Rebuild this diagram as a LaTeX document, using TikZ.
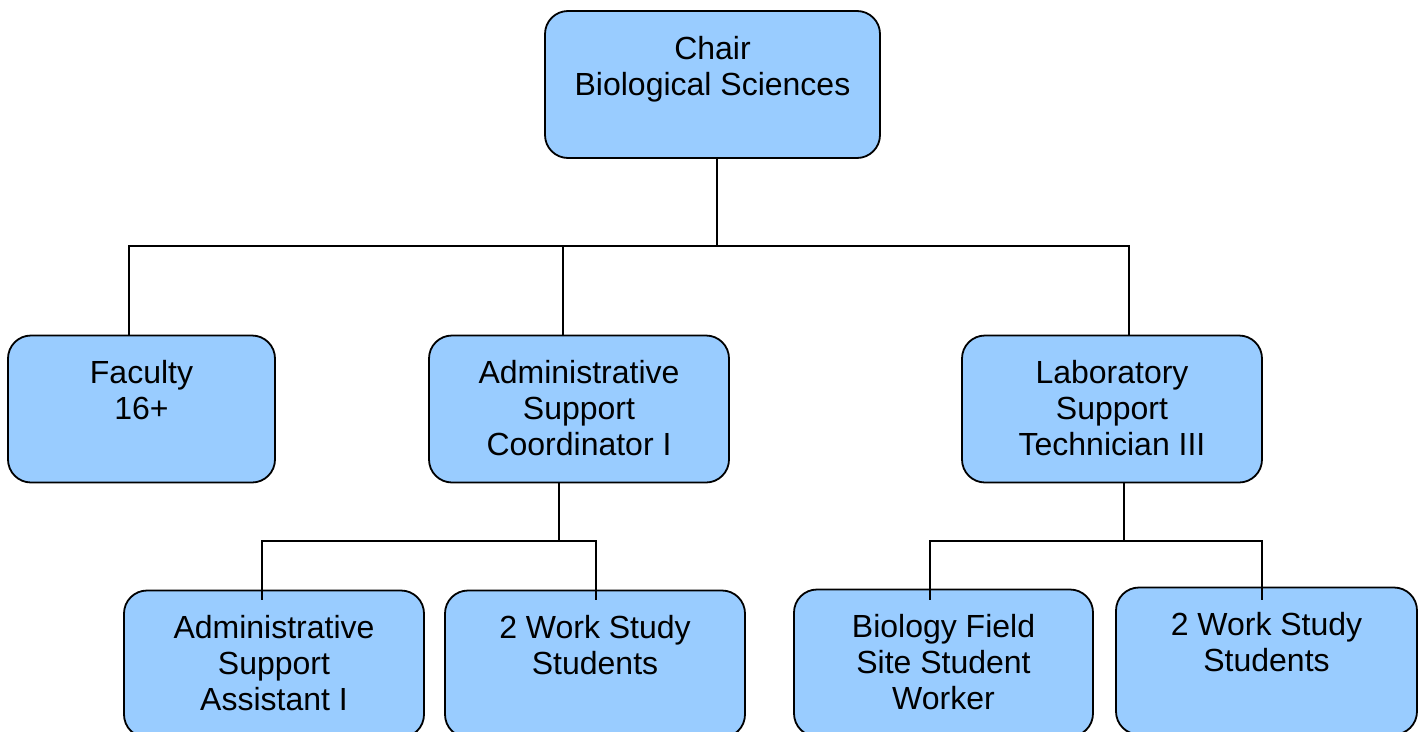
\documentclass[tikz,border=0pt]{standalone}
\usepackage{fontspec}
\setmainfont{Liberation Sans}
\definecolor{boxblue}{HTML}{99CCFF}
\begin{document}
\begin{tikzpicture}[x=1pt,y=-1pt,
  orgbox/.style={draw=black, line width=1.8pt, fill=boxblue, rounded corners=23pt,
    inner sep=0pt, minimum height=147pt},
  lbl/.style={anchor=base, align=center, inner sep=0pt,
    font={\fontsize{32}{36}\selectfont}},
  wire/.style={draw=black, line width=1.8pt}]
\useasboundingbox (0,0) rectangle (1424,731);
\clip (0,0) rectangle (1424,731);

% boxes
\node[orgbox, minimum width=335pt] (chair)   at (712.5,84.5) {};
\node[orgbox, minimum width=267pt] (faculty) at (141.5,409) {};
\node[orgbox, minimum width=300pt] (coord)   at (579,409) {};
\node[orgbox, minimum width=300pt] (labtech) at (1112,409) {};
\node[orgbox, minimum width=300pt] (asst)    at (274,664) {};
\node[orgbox, minimum width=300pt] (ws1)     at (595,664) {};
\node[orgbox, minimum width=299pt] (field)   at (943.5,663) {};
\node[orgbox, minimum width=301pt] (ws2)     at (1266.5,661) {};

% labels (base anchor sits on the last line)
\node[lbl] (chair-t)   at ([yshift=-85pt]chair.north)    {Chair\\Biological Sciences};
\node[lbl] (faculty-t) at ([yshift=-85pt]faculty.north)  {Faculty\\16+};
\node[lbl] (coord-t)   at ([yshift=-121pt]coord.north)   {Administrative\\Support\\Coordinator I};
\node[lbl] (labtech-t) at ([yshift=-121pt]labtech.north) {Laboratory\\Support\\Technician III};
\node[lbl] (asst-t)    at ([yshift=-121pt]asst.north)    {Administrative\\Support\\Assistant I};
\node[lbl] (ws1-t)     at ([yshift=-85pt]ws1.north)      {2 Work Study\\Students};
\node[lbl] (field-t)   at ([yshift=-121pt]field.north)   {Biology Field\\Site Student\\Worker};
\node[lbl] (ws2-t)     at ([yshift=-85pt]ws2.north)      {2 Work Study\\Students};

% top level connectors
\coordinate (busA) at (717,246);
\draw[wire] (chair.south -| busA) -- (busA);
\draw[wire] ([xshift=-12.5pt]faculty.north) |- (busA) -| ([xshift=17pt]labtech.north);
\draw[wire] ([xshift=-16pt]coord.north) -- ([xshift=-16pt]coord.north |- busA);

% coordinator branch
\coordinate (busB) at (559,541);
\draw[wire] ([xshift=-20pt]coord.south) -- (busB);
\draw[wire] ([shift={(-12pt,-10pt)}]asst.north) |- (busB) -| ([shift={(1pt,-10pt)}]ws1.north);

% laboratory branch
\coordinate (busC) at (1124,541);
\draw[wire] ([xshift=12pt]labtech.south) -- (busC);
\draw[wire] ([shift={(-13.5pt,-11pt)}]field.north) |- (busC) -| ([shift={(-4.5pt,-13pt)}]ws2.north);
\end{tikzpicture}
\end{document}
